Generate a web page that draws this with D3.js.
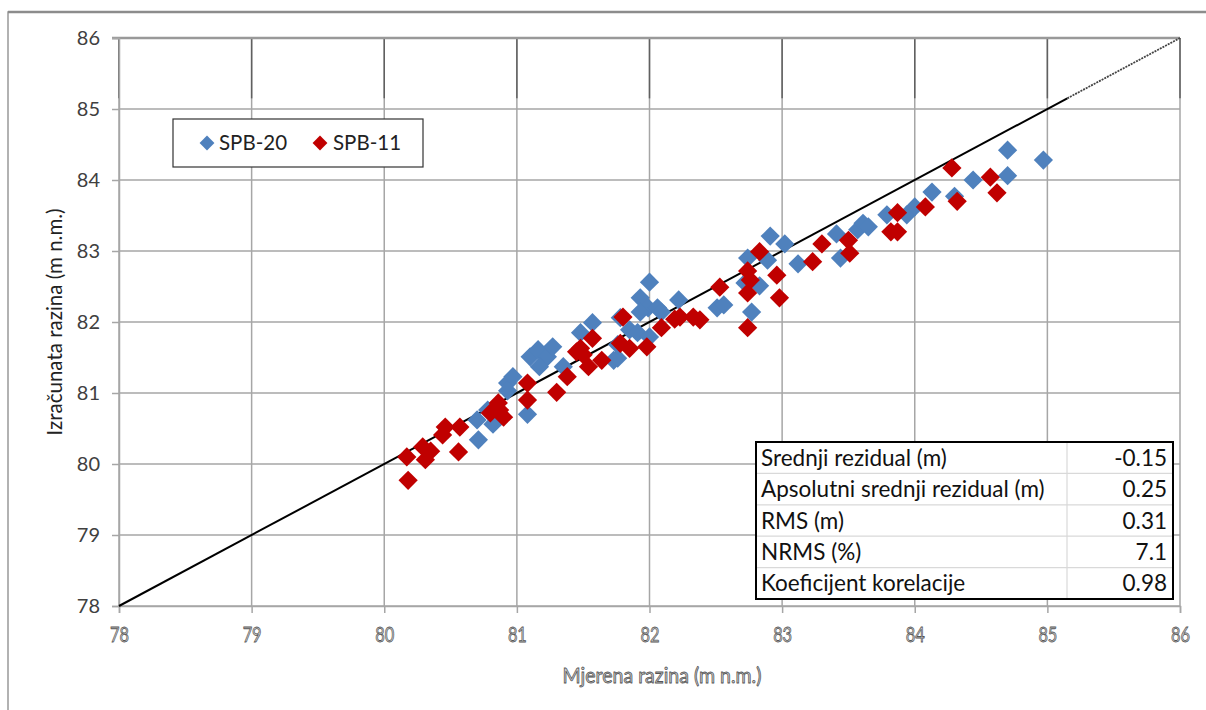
<!DOCTYPE html>
<html><head><meta charset="utf-8">
<script src="https://cdn.jsdelivr.net/npm/d3@7"></script>
<style>
body{margin:0;background:#fff;}
svg{display:block;}
</style></head>
<body>
<svg id="c" width="1206" height="710"></svg>
<script>
// ---- data ----
const xTicks = [78,79,80,81,82,83,84,85,86];
const yTicks = [78,79,80,81,82,83,84,85,86];
const seriesNames = ["SPB-20","SPB-11"];
const spb20x = [80.71,80.70,80.82,80.78,80.93,80.97,80.93,81.08,81.10,81.16,81.23,81.27,81.17,81.35,81.48,81.73,81.57,81.76,81.76,81.85,81.91,82.00,82.00,81.93,81.99,82.06,82.09,82.22,81.93,81.78,82.51,82.56,82.74,82.91,83.02,82.89,83.12,82.72,82.83,82.77,83.41,83.44,83.57,83.61,83.65,83.79,83.94,84.00,84.13,84.30,84.44,84.70,84.70,84.97];
const spb20y = [80.34,80.62,80.56,80.76,81.14,81.23,81.03,80.70,81.51,81.61,81.51,81.65,81.37,81.37,81.85,81.46,81.99,81.49,81.68,81.89,81.85,81.79,82.56,82.34,82.20,82.20,82.14,82.31,82.14,82.06,82.20,82.24,82.90,83.21,83.10,82.87,82.82,82.55,82.51,82.14,83.24,82.90,83.30,83.39,83.34,83.51,83.51,83.62,83.83,83.77,84.00,84.42,84.06,84.28];
const spb11x = [80.18,80.17,80.29,80.31,80.35,80.46,80.57,80.56,80.44,80.80,80.87,80.90,80.86,81.08,81.08,81.30,81.38,81.45,81.50,81.54,81.57,81.64,81.48,81.78,81.85,81.98,81.80,82.09,82.19,82.23,82.33,82.38,82.53,82.74,82.76,82.74,82.83,82.96,82.98,82.74,83.23,83.30,83.50,83.51,83.82,83.87,83.87,84.08,84.28,84.32,84.57,84.62];
const spb11y = [79.77,80.10,80.24,80.06,80.18,80.52,80.52,80.17,80.41,80.72,80.76,80.66,80.86,81.14,80.90,81.01,81.23,81.58,81.54,81.37,81.77,81.46,81.63,81.70,81.63,81.65,82.07,81.92,82.04,82.07,82.07,82.03,82.49,82.72,82.59,82.41,82.99,82.66,82.34,81.92,82.85,83.10,83.15,82.97,83.27,83.54,83.27,83.62,84.17,83.70,84.04,83.82];
const lineXY = [78,86];
const statLabels = ["Srednji rezidual (m)","Apsolutni srednji rezidual (m)","RMS (m)","NRMS (%)","Koeficijent korelacije"];
const statValues = ["-0.15","0.25","0.31","7.1","0.98"];
const xTitle = "Mjerena razina (m n.m.)";
const yTitle = "Izračunata razina (m n.m.)";

// ---- layout ----
const svg = d3.select("#c");
const L=119, R=1180, T=38, B=606;
const x = d3.scaleLinear().domain([78,86]).range([L,R]);
const y = d3.scaleLinear().domain([78,86]).range([B,T]);
const blue="#4f81bd", red="#c00000";
const font = "Lato, 'Open Sans', sans-serif";

// outer frame
svg.append("rect").attr("x",8).attr("y",12).attr("width",1230).attr("height",730)
  .attr("fill","none").attr("stroke","#999").attr("stroke-width",1.5);
svg.append("line").attr("x1",8).attr("x2",1206).attr("y1",12).attr("y2",12).attr("stroke","#8c8c8c").attr("stroke-width",2.5);

// gridlines
const g = svg.append("g");
g.selectAll(".vg").data(xTicks).join("line")
  .attr("x1",d=>x(d)).attr("x2",d=>x(d)).attr("y1",T).attr("y2",B)
  .attr("stroke","#a6a6a6").attr("stroke-width",1.5);
g.selectAll(".hg").data(yTicks).join("line")
  .attr("x1",L).attr("x2",R).attr("y1",d=>y(d)).attr("y2",d=>y(d))
  .attr("stroke","#a6a6a6").attr("stroke-width",1.5);
// dark top strip artefact
g.selectAll(".vd").data(xTicks).join("line")
  .attr("x1",d=>x(d)).attr("x2",d=>x(d)).attr("y1",T).attr("y2",y(85.15))
  .attr("stroke","#606060").attr("stroke-width",1.5);
g.append("line").attr("x1",L-7).attr("x2",R).attr("y1",T).attr("y2",T).attr("stroke","#999").attr("stroke-width",2.5);

// axes
const xAxis = svg.append("g").attr("transform",`translate(0,${B})`)
  .call(d3.axisBottom(x).tickValues(xTicks).tickFormat(d3.format("d")).tickSize(7).tickPadding(14));
xAxis.select(".domain").attr("stroke","#a6a6a6").attr("stroke-width",1.5);
xAxis.selectAll(".tick line").attr("stroke","#a6a6a6").attr("stroke-width",1.5);
xAxis.selectAll("text").attr("font-family",font)
  .attr("font-size",21).attr("fill","#cfcfcf").attr("stroke","#555").attr("stroke-width",0.8)
  .attr("transform","scale(0.78,1)");

const yAxis = svg.append("g").attr("transform",`translate(${L},0)`)
  .call(d3.axisLeft(y).tickValues(yTicks).tickFormat(d3.format("d")).tickSize(7).tickPadding(12));
yAxis.select(".domain").attr("stroke","#a6a6a6").attr("stroke-width",1.5);
yAxis.selectAll(".tick line").attr("stroke","#a6a6a6").attr("stroke-width",1.5);
yAxis.selectAll("text").attr("font-family",font).attr("font-size",20).attr("fill","#404040");

// titles
svg.append("text").attr("transform","translate(662,683) scale(0.93,1)").attr("text-anchor","middle")
  .attr("font-family",font)
  .attr("font-size",21).attr("fill","#cfcfcf").attr("stroke","#555").attr("stroke-width",0.8).text(xTitle);
svg.append("text").attr("transform",`translate(62,${(T+B)/2}) rotate(-90)`).attr("text-anchor","middle")
  .attr("font-family",font).attr("font-size",20.5).attr("fill","#222").text(yTitle);

// 1:1 line
svg.append("line").attr("x1",x(lineXY[0])).attr("y1",y(lineXY[0])).attr("x2",x(85.15)).attr("y2",y(85.15))
  .attr("stroke","#000").attr("stroke-width",2);
svg.append("line").attr("x1",x(85.15)).attr("y1",y(85.15)).attr("x2",x(lineXY[1])).attr("y2",y(lineXY[1]))
  .attr("stroke","#444").attr("stroke-width",1.8).attr("stroke-dasharray","2,1");

// points
const sym = d3.symbol().type(d3.symbolSquare).size(185);
function drawSeries(xs, ys, color){
  svg.append("g").selectAll("path").data(xs.map((v,i)=>[v,ys[i]])).join("path")
    .attr("d",sym).attr("fill",color)
    .attr("transform",d=>`translate(${x(d[0])},${y(d[1])}) rotate(45)`);
}
drawSeries(spb20x, spb20y, blue);
drawSeries(spb11x, spb11y, red);

// legend
const lg = svg.append("g");
lg.append("rect").attr("x",173).attr("y",119).attr("width",250).attr("height",48)
  .attr("fill","#fff").attr("stroke","#333").attr("stroke-width",1.2);
const lsym = d3.symbol().type(d3.symbolSquare).size(110);
[[207,blue,219],[320,red,333]].forEach((p,i)=>{
  lg.append("path").attr("d",lsym).attr("fill",p[1]).attr("transform",`translate(${p[0]},143) rotate(45)`);
  lg.append("text").attr("x",p[2]).attr("y",150).attr("font-family",font).attr("font-size",20.5)
    .attr("fill","#222").text(seriesNames[i]);
});

// stats table
const tb = svg.append("g");
const tx0=756, tx1=1173, tcol=1067, ty0=442, rowH=31.4;
tb.append("rect").attr("x",tx0).attr("y",ty0).attr("width",tx1-tx0).attr("height",rowH*statLabels.length)
  .attr("fill","#fff");
statLabels.forEach((lab,i)=>{
  if(i>0) tb.append("line").attr("x1",tx0).attr("x2",tx1).attr("y1",ty0+i*rowH).attr("y2",ty0+i*rowH)
    .attr("stroke","#d9d9d9").attr("stroke-width",1.2);
  tb.append("text").attr("x",tx0+5).attr("y",ty0+i*rowH+rowH/2+8).attr("font-family",font)
    .attr("font-size",22.5).attr("fill","#111").text(lab);
  tb.append("text").attr("x",tx1-6).attr("y",ty0+i*rowH+rowH/2+8).attr("text-anchor","end").attr("font-family",font)
    .attr("font-size",22.5).attr("fill","#111").text(statValues[i]);
});
tb.append("line").attr("x1",tcol).attr("x2",tcol).attr("y1",ty0).attr("y2",ty0+rowH*statLabels.length)
  .attr("stroke","#d9d9d9").attr("stroke-width",1.2);
tb.append("rect").attr("x",tx0).attr("y",ty0).attr("width",tx1-tx0).attr("height",rowH*statLabels.length)
  .attr("fill","none").attr("stroke","#000").attr("stroke-width",2);
</script>
</body></html>
